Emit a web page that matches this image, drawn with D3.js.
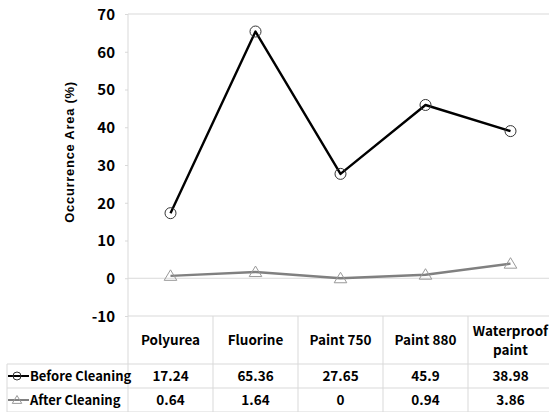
<!DOCTYPE html>
<html>
<head>
<meta charset="utf-8">
<script src="https://cdn.jsdelivr.net/npm/d3@7"></script>
<style>
  html, body { margin: 0; padding: 0; background: #fff; }
  svg text { font-family: "Noto Sans CJK KR", "Noto Sans", sans-serif; font-weight: bold; fill: #000; }
</style>
</head>
<body>
<svg id="chart" width="549" height="412"></svg>
<script>
// Coating types and measured occurrence areas (%)
const categories = ["Polyurea", "Fluorine", "Paint 750", "Paint 880", "Waterproof paint"];
const beforeCleaning = [17.24, 65.36, 27.65, 45.9, 38.98];
const afterCleaning = [0.64, 1.64, 0, 0.94, 3.86];
const yTicks = [-10, 0, 10, 20, 30, 40, 50, 60, 70];
const seriesNames = ["Before Cleaning", "After Cleaning"];

const svg = d3.select("#chart");
const W = 549, H = 412;
const plotLeft = 128, plotRight = 553, plotTop = 14, plotBottom = 316;
const tableLeft = 7;
const rowLines = [316, 364, 388, 412];

const x = d3.scaleBand().domain(categories).range([plotLeft, plotRight]).padding(0);
const y = d3.scaleLinear().domain([-10, 70]).range([plotBottom, plotTop]);
const grid = "#d9d9d9";

// Y axis with small outside ticks
const yAxis = d3.axisLeft(y).tickValues(yTicks).tickSize(3).tickPadding(10).tickFormat(d3.format("d"));
const gy = svg.append("g").attr("transform", `translate(${plotLeft},0)`).call(yAxis);
gy.select(".domain").remove();
gy.selectAll(".tick line").attr("stroke", grid);
gy.selectAll(".tick text").style("font-size", "15px").attr("dy", "0.35em")
  .text(d => d < 0 ? "-" + Math.abs(d) : d);

// Vertical axis line runs down through the table
svg.append("line").attr("x1", plotLeft).attr("x2", plotLeft).attr("y1", plotTop).attr("y2", H).attr("stroke", grid);
// Top border and zero line
svg.append("line").attr("x1", plotLeft).attr("x2", W).attr("y1", y(70)).attr("y2", y(70)).attr("stroke", grid);
svg.append("line").attr("x1", plotLeft).attr("x2", W).attr("y1", y(0)).attr("y2", y(0)).attr("stroke", grid);

// Y axis title
svg.append("text")
  .attr("transform", "translate(69,152) rotate(-90)")
  .attr("text-anchor", "middle").attr("dy", "0.35em")
  .style("font-family", "'Liberation Sans', Arial, sans-serif")
  .style("font-size", "13px").style("letter-spacing", "0.7px")
  .text("Occurrence Area (%)");

// Data table grid
rowLines.forEach((ry, i) => {
  svg.append("line").attr("x1", i === 0 ? plotLeft : tableLeft).attr("x2", W)
    .attr("y1", ry).attr("y2", ry).attr("stroke", grid);
});
categories.forEach(c => {
  svg.append("line").attr("x1", x(c) + x.bandwidth()).attr("x2", x(c) + x.bandwidth())
    .attr("y1", rowLines[0]).attr("y2", H).attr("stroke", grid);
});
svg.append("line").attr("x1", tableLeft).attr("x2", tableLeft)
  .attr("y1", rowLines[1]).attr("y2", H).attr("stroke", grid);

// Category headers (wrap the two-word last label)
categories.forEach(c => {
  const cx = x(c) + x.bandwidth() / 2;
  const t = svg.append("text").attr("x", cx).attr("text-anchor", "middle").style("font-size", "13.5px");
  if (c === "Waterproof paint") {
    t.append("tspan").attr("x", cx).attr("y", 331).attr("dy", "0.35em").text("Waterproof");
    t.append("tspan").attr("x", cx).attr("y", 350).attr("dy", "0.35em").text("paint");
  } else {
    t.attr("y", 340).attr("dy", "0.35em").text(c);
  }
});

// Table values
const rows = [beforeCleaning, afterCleaning];
const rowMid = [376, 400];
rows.forEach((vals, r) => {
  vals.forEach((v, i) => {
    svg.append("text").attr("x", x(categories[i]) + x.bandwidth() / 2).attr("y", rowMid[r])
      .attr("dy", "0.35em").attr("text-anchor", "middle").style("font-size", "13.5px").text(v);
  });
});

// Series styles
const styles = [
  { line: "#000", width: 2.4, marker: "circle", mstroke: "#333" },
  { line: "#808080", width: 2.4, marker: "triangle", mstroke: "#999" }
];
const triPath = s => `M0,${-s}L${s * 1.05},${s * 0.75}L${-s * 1.05},${s * 0.75}Z`;

function drawMarker(g, kind, cx, cy, st) {
  if (kind === "circle") {
    g.append("circle").attr("cx", cx).attr("cy", cy).attr("r", 5.5)
      .attr("fill", "none").attr("stroke", st.mstroke).attr("stroke-width", 1);
  } else {
    g.append("path").attr("d", triPath(6)).attr("transform", `translate(${cx},${cy})`)
      .attr("fill", "none").attr("stroke", st.mstroke).attr("stroke-width", 1);
  }
}

const line = d3.line().x((d, i) => x(categories[i]) + x.bandwidth() / 2).y(d => y(d));
rows.forEach((vals, r) => {
  const st = styles[r];
  const g = svg.append("g");
  g.append("path").datum(vals).attr("d", line).attr("fill", "none")
    .attr("stroke", st.line).attr("stroke-width", st.width).attr("stroke-linejoin", "round");
  vals.forEach((v, i) => drawMarker(g, st.marker, x(categories[i]) + x.bandwidth() / 2, y(v), st));

  // Legend key inside the table row
  const ly = rowMid[r];
  const lg = svg.append("g");
  lg.append("line").attr("x1", 8).attr("x2", 29).attr("y1", ly).attr("y2", ly)
    .attr("stroke", st.line).attr("stroke-width", 2);
  if (st.marker === "circle") {
    lg.append("circle").attr("cx", 17).attr("cy", ly).attr("r", 4).attr("fill", "none")
      .attr("stroke", st.mstroke).attr("stroke-width", 1);
  } else {
    lg.append("path").attr("d", triPath(4.5)).attr("transform", `translate(17,${ly})`)
      .attr("fill", "none").attr("stroke", st.mstroke).attr("stroke-width", 1);
  }
  lg.append("text").attr("x", 30).attr("y", ly).attr("dy", "0.35em").style("font-size", "13px")
    .text(seriesNames[r]);
});
</script>
</body>
</html>
